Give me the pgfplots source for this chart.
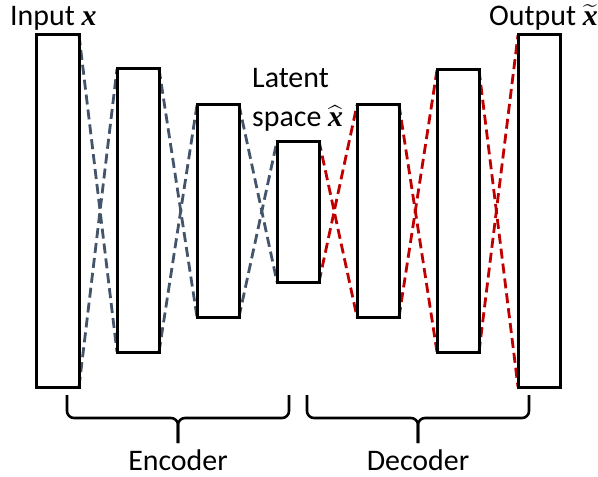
\documentclass[border=0pt]{standalone}
\usepackage{amsmath}
\usepackage{pgfplots}
\pgfplotsset{compat=1.18}
\usepackage{fontspec}
\setmainfont{Carlito}
\newfontfamily\xfont{Liberation Serif}
\definecolor{enc}{HTML}{44546A}
\definecolor{dec}{HTML}{C00000}
\newcommand{\lblfont}{\fontsize{30}{34}\selectfont}
\newcommand{\vx}{\text{\xfont\bfseries\itshape x}}
\begin{document}
\begin{tikzpicture}
\begin{axis}[
  width=598bp, height=477bp, scale only axis,
  xmin=0, xmax=598, ymin=0, ymax=477, y dir=reverse,
  hide axis, clip=false, name=ax,
]
% encoder connections
\addplot[enc, line width=2.8bp, dash pattern=on 10bp off 5bp] coordinates {(79,35)(117,352)};
\addplot[enc, line width=2.8bp, dash pattern=on 10bp off 5bp] coordinates {(79,387)(117,69)};
\addplot[enc, line width=2.8bp, dash pattern=on 10bp off 5bp] coordinates {(159,69)(197,317)};
\addplot[enc, line width=2.8bp, dash pattern=on 10bp off 5bp] coordinates {(159,352)(197,105)};
\addplot[enc, line width=2.8bp, dash pattern=on 10bp off 5bp] coordinates {(239,105)(277,282)};
\addplot[enc, line width=2.8bp, dash pattern=on 10bp off 5bp] coordinates {(239,317)(277,141)};
% decoder connections
\addplot[dec, line width=2.8bp, dash pattern=on 10bp off 5bp] coordinates {(319,141)(357,317)};
\addplot[dec, line width=2.8bp, dash pattern=on 10bp off 5bp] coordinates {(319,282)(357,105)};
\addplot[dec, line width=2.8bp, dash pattern=on 10bp off 5bp] coordinates {(399,105)(437,352)};
\addplot[dec, line width=2.8bp, dash pattern=on 10bp off 5bp] coordinates {(399,317)(437,70)};
\addplot[dec, line width=2.8bp, dash pattern=on 10bp off 5bp] coordinates {(479,70)(518,387)};
\addplot[dec, line width=2.8bp, dash pattern=on 10bp off 5bp] coordinates {(479,352)(518,35)};
% layers
\addplot[black, line width=3bp] coordinates {(36,35)(79,35)(79,387)(36,387)} --cycle;
\addplot[black, line width=3bp] coordinates {(117,69)(159,69)(159,352)(117,352)} --cycle;
\addplot[black, line width=3bp] coordinates {(197,105)(239,105)(239,317)(197,317)} --cycle;
\addplot[black, line width=3bp] coordinates {(277,141)(319,141)(319,282)(277,282)} --cycle;
\addplot[black, line width=3bp] coordinates {(357,105)(399,105)(399,317)(357,317)} --cycle;
\addplot[black, line width=3bp] coordinates {(437,70)(479,70)(479,352)(437,352)} --cycle;
\addplot[black, line width=3bp] coordinates {(518,35)(560,35)(560,387)(518,387)} --cycle;
% braces
\addplot[black, line width=2.6bp, rounded corners=7bp] coordinates {(67,395)(67,418)(178,418)(178,443)};
\addplot[black, line width=2.6bp, rounded corners=7bp] coordinates {(289,395)(289,418)(178,418)(178,443)};
\addplot[black, line width=2.6bp, rounded corners=7bp] coordinates {(307,395)(307,418)(418,418)(418,443)};
\addplot[black, line width=2.6bp, rounded corners=7bp] coordinates {(529,395)(529,418)(418,418)(418,443)};
% labels
\node[anchor=base west, inner sep=0, font=\lblfont] at (axis cs:10,26) {Input $\vx$};
\node[anchor=base east, inner sep=0, font=\lblfont] at (axis cs:598,26) {Output $\widetilde{\vx}$};
\node[anchor=base west, inner sep=0, font=\lblfont] at (axis cs:252,88) {Latent};
\node[anchor=base west, inner sep=0, font=\lblfont] at (axis cs:252,127) {space $\widehat{\vx}$};
\node[anchor=base, inner sep=0, font=\lblfont] at (axis cs:178,470) {Encoder};
\node[anchor=base, inner sep=0, font=\lblfont] at (axis cs:418,470) {Decoder};
\end{axis}
\pgfresetboundingbox
\path[use as bounding box] (ax.south west) rectangle (ax.north east);
\end{tikzpicture}
\end{document}
